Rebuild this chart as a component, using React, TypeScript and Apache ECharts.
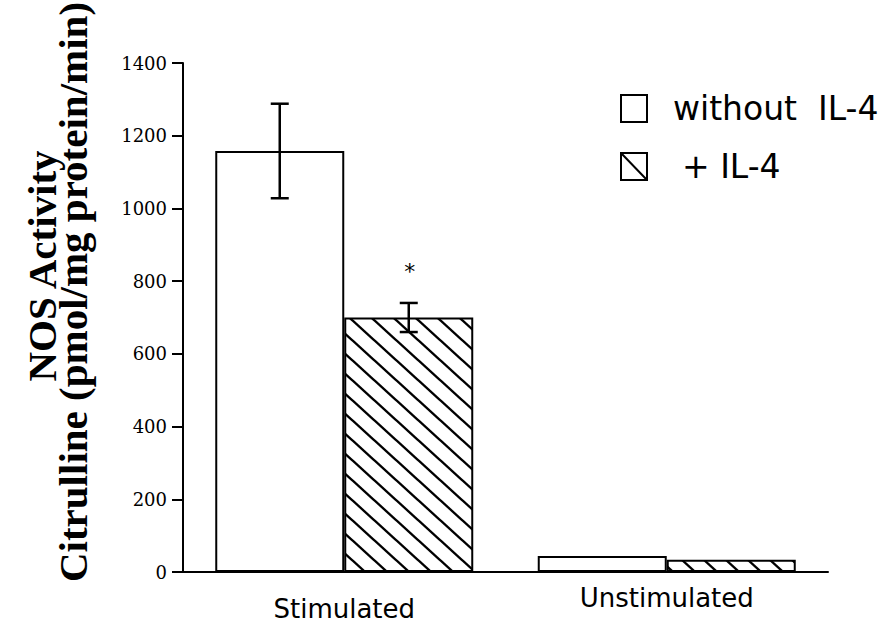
import React, { useEffect, useRef } from 'react';
import * as echarts from 'echarts';

const categories = ['Stimulated', 'Unstimulated'];
const seriesNames = ['without  IL-4', '+ IL-4'];
const withoutIL4 = [1158, 44];
const withIL4 = [700, 34];
const withoutIL4Err = [130, 0];
const withIL4Err = [40, 0];
const withIL4Sig = [1, 0];
const yMin = 0;
const yMax = 1400;
const yStep = 200;
const titleLines = ['NOS Activity', 'Citrulline (pmol/mg protein/min)'];

function makeHatch(): HTMLCanvasElement {
  const w = 22;
  const h = 20;
  const c = document.createElement('canvas');
  c.width = w;
  c.height = h;
  const ctx = c.getContext('2d')!;
  ctx.fillStyle = '#ffffff';
  ctx.fillRect(0, 0, w, h);
  ctx.strokeStyle = '#000000';
  ctx.lineWidth = 2.4;
  for (const dx of [-w, 0, w]) {
    ctx.beginPath();
    ctx.moveTo(dx - w, -h);
    ctx.lineTo(dx + 2 * w, 2 * h);
    ctx.stroke();
  }
  return c;
}

export default function App() {
  const ref = useRef<HTMLDivElement>(null);

  useEffect(() => {
    if (!ref.current) return;
    const chart = echarts.init(ref.current, null, { renderer: 'svg' });
    const hatch = makeHatch();

    const errRows: number[][] = [];
    categories.forEach((_, i) => {
      if (withoutIL4Err[i] > 0) {
        errRows.push([i, withoutIL4[i] - withoutIL4Err[i], withoutIL4[i] + withoutIL4Err[i], 0, 0]);
      }
      if (withIL4Err[i] > 0) {
        errRows.push([i, withIL4[i] - withIL4Err[i], withIL4[i] + withIL4Err[i], 1, withIL4Sig[i]]);
      }
    });

    const option: any = {
      animation: false,
      backgroundColor: '#ffffff',
      grid: { left: 183, right: 53, top: 63, bottom: 66, containLabel: false },
      legend: {
        orient: 'vertical',
        left: 620,
        top: 92,
        padding: 0,
        itemWidth: 26,
        itemHeight: 27,
        itemGap: 25,
        selectedMode: false,
        textStyle: {
          fontFamily: 'DejaVu Sans',
          fontSize: 33,
          color: '#000',
          padding: [0, 0, 0, 21],
        },
        data: [
          {
            name: seriesNames[0],
            icon: 'path://M0 0H26V27H0Z',
            itemStyle: { color: '#fff', borderColor: '#000', borderWidth: 2 },
          },
          {
            name: seriesNames[1],
            icon: 'path://M0 0H26V27H0ZM0 0L26 27',
            itemStyle: { color: '#fff', borderColor: '#000', borderWidth: 2 },
            textStyle: { padding: [0, 0, 0, 30] },
          },
        ],
      },
      xAxis: {
        type: 'category',
        data: [
          { value: categories[0], textStyle: { padding: [11, 0, 0, 0] } },
          { value: categories[1] },
        ],
        axisLine: { show: true, lineStyle: { color: '#000', width: 2 } },
        axisTick: { show: false },
        axisLabel: {
          interval: 0,
          margin: 13,
          fontFamily: 'DejaVu Sans',
          fontSize: 26,
          color: '#000',
        },
        splitLine: { show: false },
      },
      yAxis: {
        type: 'value',
        min: yMin,
        max: yMax,
        interval: yStep,
        axisLine: { show: true, lineStyle: { color: '#000', width: 2 } },
        axisTick: { show: true, length: 11, lineStyle: { color: '#000', width: 2 } },
        axisLabel: {
          margin: 16,
          fontFamily: 'DejaVu Serif',
          fontSize: 18,
          color: '#000',
          formatter: (v: number) => String(v),
        },
        splitLine: { show: false },
      },
      graphic: [
        {
          type: 'text',
          x: 42,
          y: 266,
          rotation: Math.PI / 2,
          style: {
            text: titleLines[0],
            font: 'bold 41px "Liberation Serif"',
            fill: '#000',
            textAlign: 'center',
            textVerticalAlign: 'middle',
          },
        },
        {
          type: 'text',
          x: 73,
          y: 292,
          rotation: Math.PI / 2,
          style: {
            text: titleLines[1],
            font: 'bold 41px "Liberation Serif"',
            fill: '#000',
            textAlign: 'center',
            textVerticalAlign: 'middle',
          },
        },
      ],
      series: [
        {
          name: seriesNames[0],
          type: 'bar',
          data: withoutIL4,
          barCategoryGap: '20%',
          barGap: '0%',
          itemStyle: { color: '#ffffff', borderColor: '#000', borderWidth: 2 },
        },
        {
          name: seriesNames[1],
          type: 'bar',
          data: withIL4,
          barCategoryGap: '20%',
          barGap: '0%',
          itemStyle: {
            color: { image: hatch, repeat: 'repeat' },
            borderColor: '#000',
            borderWidth: 2,
          },
        },
        {
          type: 'custom',
          name: 'err',
          silent: true,
          z: 10,
          data: errRows,
          encode: { x: 0, y: [1, 2] },
          renderItem: (params: any, api: any) => {
            const cat = api.value(0);
            const lo = api.value(1);
            const hi = api.value(2);
            const s = api.value(3);
            const sig = api.value(4);
            const band = api.size([1, 0])[0];
            const bw = band * 0.4;
            const x = api.coord([cat, 0])[0] + (s === 0 ? -bw / 2 : bw / 2);
            const yHi = api.coord([cat, hi])[1];
            const yLo = api.coord([cat, lo])[1];
            const cap = 9;
            const st = { stroke: '#000', lineWidth: 2.5 };
            const children: any[] = [
              { type: 'line', shape: { x1: x, y1: yHi, x2: x, y2: yLo }, style: st },
              { type: 'line', shape: { x1: x - cap, y1: yHi, x2: x + cap, y2: yHi }, style: st },
              { type: 'line', shape: { x1: x - cap, y1: yLo, x2: x + cap, y2: yLo }, style: st },
            ];
            if (sig) {
              children.push({
                type: 'text',
                x: x + 1,
                y: yHi - 31,
                style: {
                  text: '*',
                  font: '22px "DejaVu Sans"',
                  fill: '#000',
                  textAlign: 'center',
                  textVerticalAlign: 'middle',
                },
              });
            }
            return { type: 'group', children };
          },
        },
      ],
    };

    chart.setOption(option);
    return () => {
      chart.dispose();
    };
  }, []);

  return (
    <div
      ref={ref}
      style={{ position: 'fixed', left: 0, top: 0, width: 881, height: 638, background: '#fff' }}
    />
  );
}
